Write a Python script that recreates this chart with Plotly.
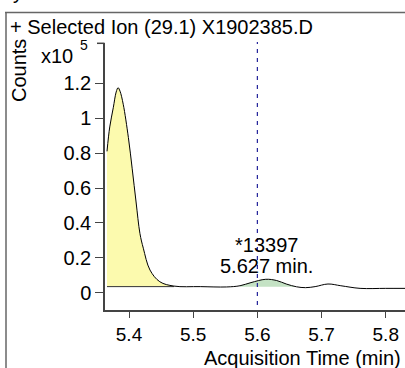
import plotly.graph_objects as go

# Data (counts in units of 1e5)
time_min = [5.3657, 5.370, 5.3755, 5.380, 5.383, 5.386, 5.391, 5.399, 5.405, 5.411,
            5.417, 5.4223, 5.4327, 5.448, 5.470, 5.511, 5.552, 5.573, 5.590, 5.613,
            5.630, 5.645, 5.661, 5.675, 5.690, 5.710, 5.730, 5.760, 5.800, 5.830]
counts = [0.81, 0.95, 1.06, 1.15, 1.175, 1.155, 1.08, 0.89, 0.71, 0.52,
          0.34, 0.255, 0.13, 0.063, 0.038, 0.035, 0.033, 0.040, 0.058, 0.077,
          0.070, 0.050, 0.034, 0.029, 0.035, 0.050, 0.040, 0.025, 0.025, 0.025]
peak1_range = [5.3657, 5.470]
peak1_base = 0.035
peak2_range = [5.573, 5.661]
peak2_base = 0.034
marker_time = 5.6
peak_label = ["*13397", "5.627 min."]
ytick_vals = [0, 0.2, 0.4, 0.6, 0.8, 1.0, 1.2]
ytick_text = ["0", "0.2", "0.4", "0.6", "0.8", "1", "1.2"]
xtick_vals = [5.4, 5.5, 5.6, 5.7, 5.8]
xtick_text = ["5.4", "5.5", "5.6", "5.7", "5.8"]
title_text = "+ Selected Ion (29.1) X1902385.D"
x_title = "Acquisition Time (min)"
y_title = "Counts"

FONT = "Liberation Sans, Arial, sans-serif"
FS = 20

def subset(lo, hi):
    xs, ys = [], []
    for t, c in zip(time_min, counts):
        if lo - 1e-9 <= t <= hi + 1e-9:
            xs.append(t)
            ys.append(c)
    return xs, ys

fig = go.Figure()

# Peak 1 fill (yellow)
x1, y1 = subset(*peak1_range)
fig.add_trace(go.Scatter(x=[x1[0], x1[-1]], y=[peak1_base, peak1_base], mode="lines",
                         line=dict(width=0), hoverinfo="skip", showlegend=False))
fig.add_trace(go.Scatter(x=x1, y=y1, mode="lines", line=dict(width=0, shape="spline"),
                         fill="tonexty", fillcolor="#fcfaae", hoverinfo="skip", showlegend=False))
# Peak 2 fill (green)
x2, y2 = subset(*peak2_range)
fig.add_trace(go.Scatter(x=[x2[0], x2[-1]], y=[peak2_base, peak2_base], mode="lines",
                         line=dict(width=0), hoverinfo="skip", showlegend=False))
fig.add_trace(go.Scatter(x=x2, y=y2, mode="lines", line=dict(width=0, shape="spline"),
                         fill="tonexty", fillcolor="#c4e2c4", hoverinfo="skip", showlegend=False))
# Baseline edge
fig.add_trace(go.Scatter(x=[x1[0], x1[-1]], y=[peak1_base, peak1_base], mode="lines",
                         line=dict(width=1, color="#333"), hoverinfo="skip", showlegend=False))
# Main trace
fig.add_trace(go.Scatter(x=time_min, y=counts, mode="lines",
                         line=dict(color="black", width=1, shape="spline"), showlegend=False))

W, H = 405, 368
L, R, T, B = 105, 0, 43, 58
pw, ph = W - L - R, H - T - B

def px(p):
    return (p - L) / pw

def py(p):
    return (H - B - p) / ph

fig.update_layout(
    width=W, height=H,
    margin=dict(l=L, r=R, t=T, b=B),
    paper_bgcolor="white", plot_bgcolor="white",
    font=dict(family=FONT, size=FS, color="black"),
    xaxis=dict(range=[5.3626, 5.830], tickvals=xtick_vals, ticktext=xtick_text,
               showgrid=False, zeroline=False, showline=True, linecolor="#444", linewidth=1.5,
               ticks="outside", ticklen=6, tickcolor="#444", tickfont=dict(size=19)),
    yaxis=dict(range=[-0.099, 1.431], tickvals=ytick_vals, ticktext=ytick_text,
               showgrid=False, zeroline=False, showline=True, linecolor="#444", linewidth=1.5,
               ticks="outside", ticklen=8, tickcolor="#444", tickfont=dict(size=FS)),
    shapes=[
        dict(type="line", xref="paper", yref="paper", x0=px(5), x1=px(405), y0=py(12.5), y1=py(12.5),
             line=dict(color="#666", width=1.5)),
        dict(type="line", xref="paper", yref="paper", x0=px(6), x1=px(6), y0=py(12.5), y1=py(380),
             line=dict(color="#666", width=1.5)),
        dict(type="line", xref="paper", yref="paper", x0=px(97), x1=px(104.5), y0=py(43.3), y1=py(43.3),
             line=dict(color="#444", width=1.5)),
        dict(type="line", xref="x", yref="paper", x0=marker_time, x1=marker_time, y0=py(305), y1=py(42),
             line=dict(color="#22229a", width=1.2, dash="4px,5px")),
    ],
    annotations=[
        dict(text="y", xref="paper", yref="paper", x=px(11), y=py(5), xanchor="left", yanchor="bottom",
             showarrow=False, font=dict(size=FS)),
        dict(text=title_text, xref="paper", yref="paper", x=px(8), y=py(27), xanchor="left", yanchor="middle",
             showarrow=False, font=dict(size=FS)),
        dict(text=y_title, xref="paper", yref="paper", x=px(19), y=py(71), xanchor="center", yanchor="middle",
             textangle=-90, showarrow=False, font=dict(size=FS)),
        dict(text="x10", xref="paper", yref="paper", x=px(57), y=py(56), xanchor="center", yanchor="middle",
             showarrow=False, font=dict(size=FS)),
        dict(text="5", xref="paper", yref="paper", x=px(84), y=py(45), xanchor="center", yanchor="middle",
             showarrow=False, font=dict(size=14)),
        dict(text=x_title, xref="paper", yref="paper", x=px(403), y=py(358), xanchor="right", yanchor="middle",
             showarrow=False, font=dict(size=FS)),
        dict(text=peak_label[0], xref="paper", yref="paper", x=px(266), y=py(245), xanchor="center",
             yanchor="middle", showarrow=False, font=dict(size=FS)),
        dict(text=peak_label[1], xref="paper", yref="paper", x=px(266), y=py(266), xanchor="center",
             yanchor="middle", showarrow=False, font=dict(size=FS)),
    ],
)

fig.write_html("out.html")
